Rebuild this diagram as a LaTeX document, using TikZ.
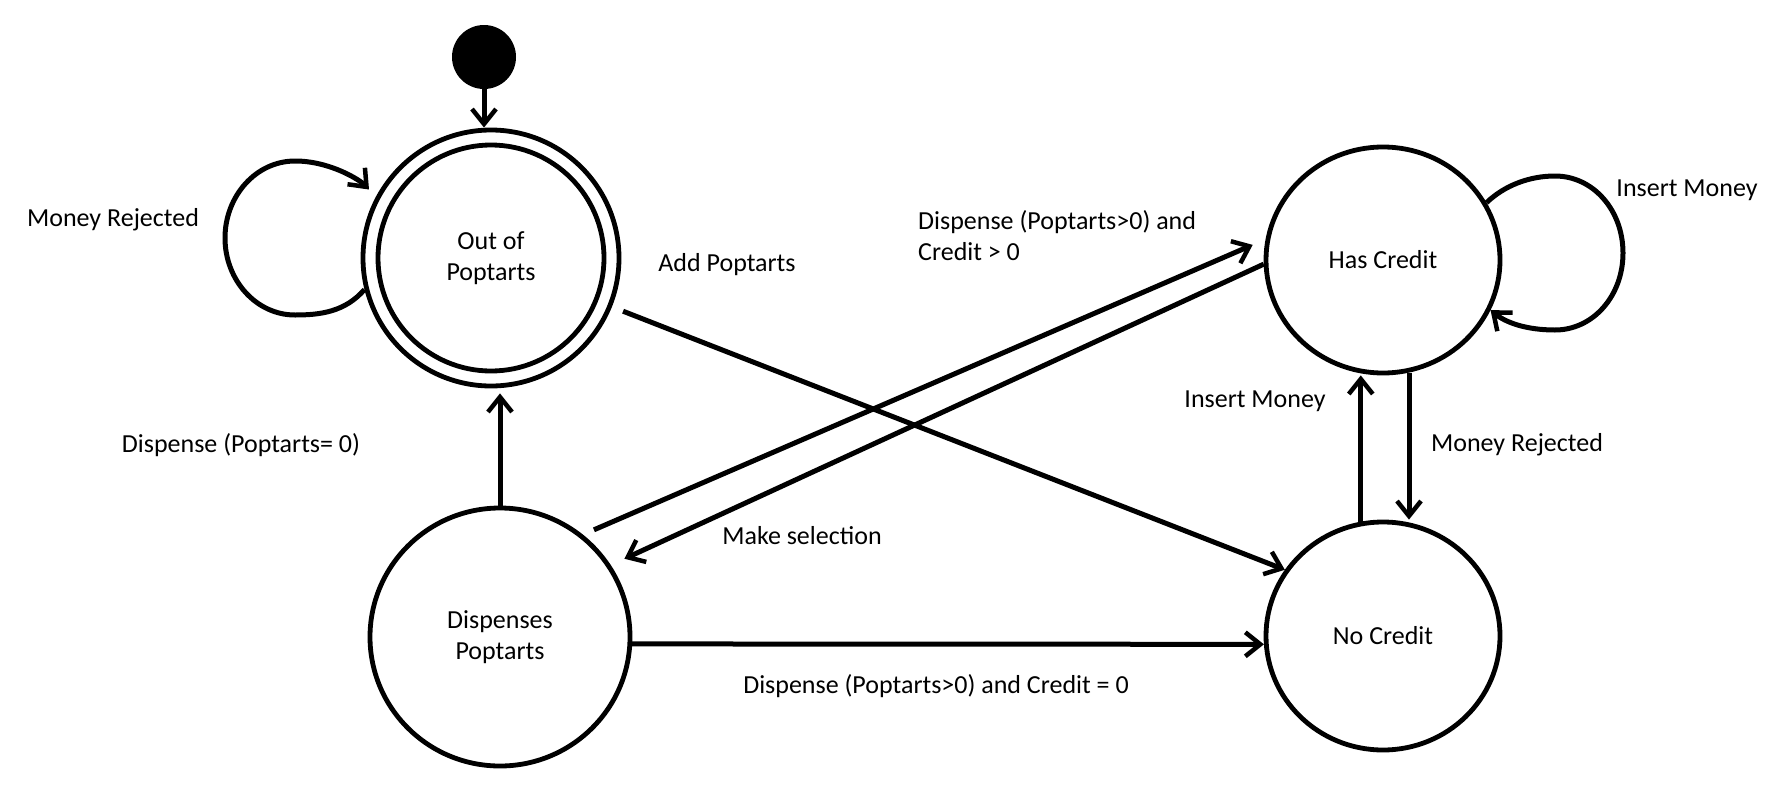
\documentclass[tikz,border=0pt]{standalone}
\usepackage{fontspec}
\setmainfont{Carlito}
\usetikzlibrary{arrows.meta,shapes.geometric,calc}
\begin{document}
\begin{tikzpicture}[x=1pt,y=-1pt,
  state/.style={draw, ellipse, line width=4.8pt, inner sep=0pt, align=center},
  conn/.style={line width=5pt, -{Straight Barb[length=15pt,width=24pt,line width=4.5pt]}},
  lbl/.style={inner sep=0pt, align=center},
  every node/.style={font=\fontsize{26}{31}\selectfont}]
\useasboundingbox (0,0) rectangle (1788,798);

% states
\node[fill, circle, minimum size=64pt, inner sep=0pt] (dot) at (484,57) {};
\node[state, minimum width=256pt, minimum height=256pt] (out) at (491,258) {};
\node[state, minimum width=226pt, minimum height=226pt] (outin) at (491,258) {Out of\\Poptarts};
\node[state, minimum width=234pt, minimum height=226pt] (hc) at (1383,260) {Has Credit};
\node[state, minimum width=234pt, minimum height=228pt] (nc) at (1383,636) {No Credit};
\node[state, minimum width=260pt, minimum height=258pt] (disp) at (500,637) {Dispenses\\Poptarts};

% connectors
\draw[conn] (dot) -- (dot |- out.north);
\draw[conn, shorten >=5pt] (disp.north) -- (disp.north |- out.south);
\draw[conn, shorten <=12pt] (out.-22) -- (nc.146);
\draw[conn, shorten <=12pt, shorten >=14pt] (disp.51.4) -- (hc.170.5);
\draw[conn, shorten >=15pt] (hc.182.4) -- (disp.33.9);
\draw[conn] (disp.-3) -- (nc.184);
\draw[conn] (nc.101.6) -- (nc.101.6 |- hc.south);
\draw[conn] (hc.-77.3) -- (hc.-77.3 |- nc.north);
\draw[conn, shorten >=10pt] (out.194) .. controls (345,312) and (320,315) .. (295,315)
      .. controls (256,315) and (225,280) .. (225,238)
      .. controls (225,196) and (256,161) .. (295,161)
      .. controls (330,161) and (360,180) .. (out.152);
\draw[conn] (hc.29) .. controls (1505,185) and (1530,176) .. (1555,176)
      .. controls (1593,176) and (1623,210) .. (1623,253)
      .. controls (1623,296) and (1593,330) .. (1555,330)
      .. controls (1525,330) and (1505,322) .. (hc.-25);

% labels
\node[lbl] (l1) at (113,220) {Money Rejected};
\node[lbl] (l2) at (727,265) {Add Poptarts};
\node[lbl, anchor=west, align=left] (l3) at (918,236) {Dispense (Poptarts>0) and\\Credit > 0};
\node[lbl] (l4) at (1687,190) {Insert Money};
\node[lbl] (l5) at (1255,401) {Insert Money};
\node[lbl] (l6) at (1517,445) {Money Rejected};
\node[lbl] (l7) at (241,445) {Dispense (Poptarts= 0)};
\node[lbl] (l8) at (802,536) {Make selection};
\node[lbl] (l9) at (936,686) {Dispense (Poptarts>0) and Credit = 0};
\end{tikzpicture}
\end{document}
